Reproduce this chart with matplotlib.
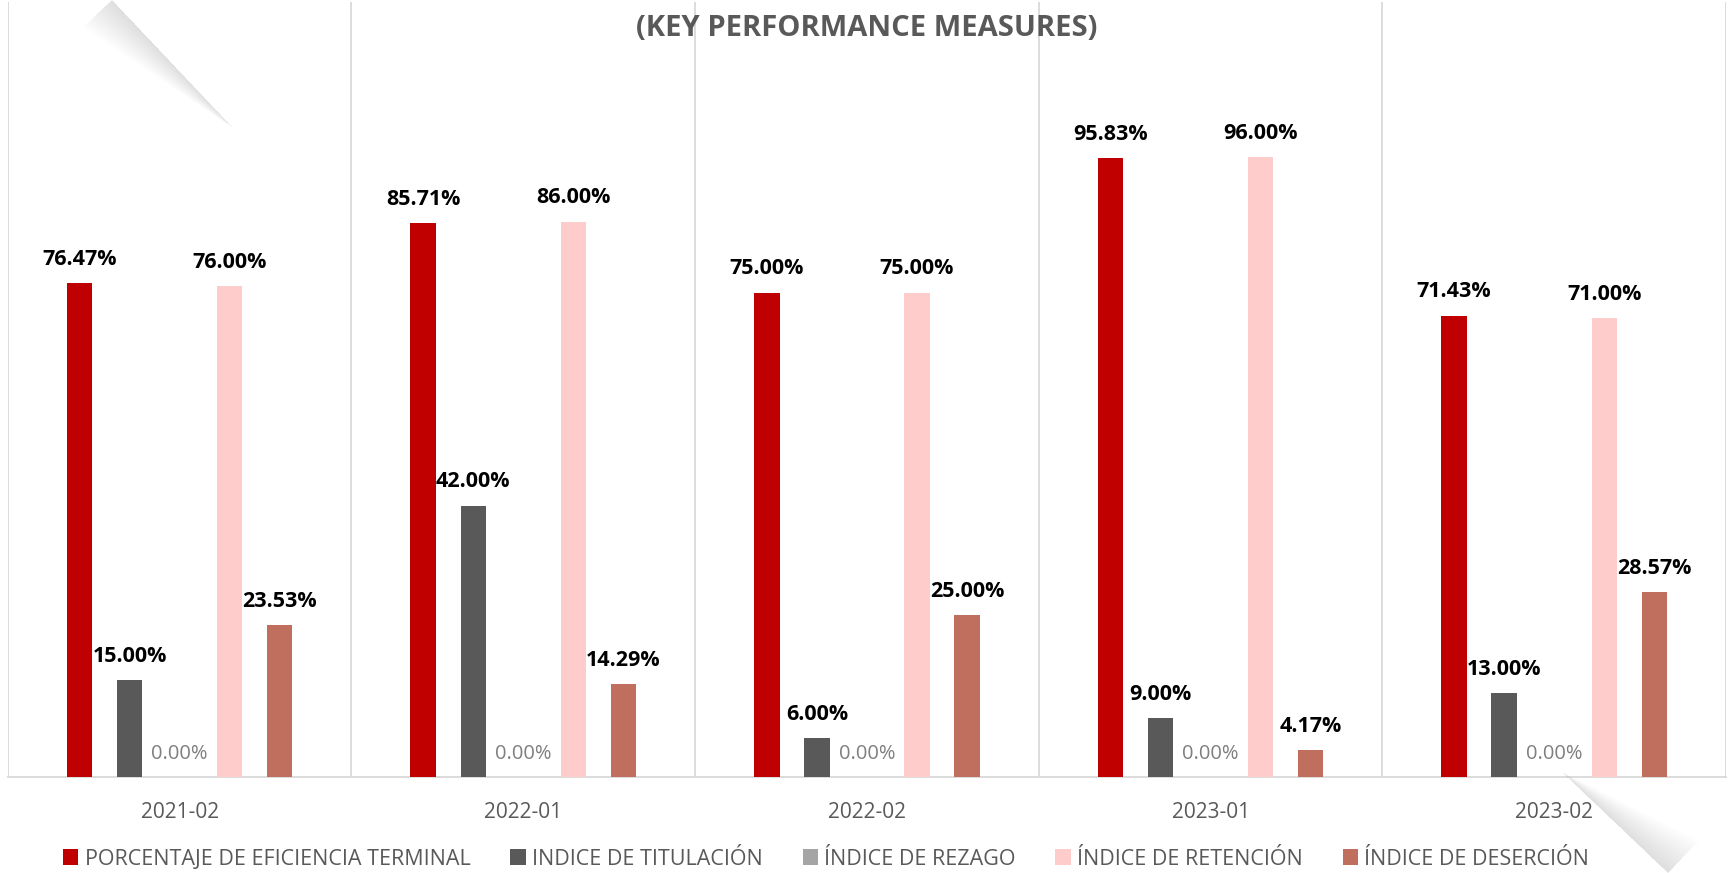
#KPI grouped bar chart by semester
import numpy as np; import matplotlib.pyplot as plt
from matplotlib.patches import Polygon

#Data
periodos=['2021-02','2022-01','2022-02','2023-01','2023-02']
series=['PORCENTAJE DE EFICIENCIA TERMINAL','INDICE DE TITULACIÓN','ÍNDICE DE REZAGO','ÍNDICE DE RETENCIÓN','ÍNDICE DE DESERCIÓN']
eficiencia=[76.47,85.71,75.00,95.83,71.43]
titulacion=[15.00,42.00,6.00,9.00,13.00]
rezago=[0.00,0.00,0.00,0.00,0.00]
retencion=[76.00,86.00,75.00,96.00,71.00]
desercion=[23.53,14.29,25.00,4.17,28.57]
colores=['#C00000','#595959','#A5A5A5','#FFCCCC','#C06E5E']

W,H=1732,873
fuente=['Open Sans','DejaVu Sans']
plt.rcParams['font.family']=fuente

fig=plt.figure(figsize=(W/100,H/100),dpi=100)
ax=fig.add_axes([0.0045,0.1105,0.9921,0.887])

x=np.arange(len(periodos))
paso=0.1457     #slot per bar
ancho=0.074     #bar width
datos=[eficiencia,titulacion,rezago,retencion,desercion]
for j,(vals,col,nom) in enumerate(zip(datos,colores,series)):
    pos=x+(j-2)*paso
    ax.bar(pos,vals,width=ancho,color=col,label=nom,zorder=3)
    for xp,v in zip(pos,vals):
        if v==0:
            ax.annotate('%.2f%%'%v,(xp,v),xytext=(0,16),textcoords='offset points',
                        ha='center',va='center',fontsize=14.5,color='#7F7F7F')
        else:
            ax.annotate('%.2f%%'%v,(xp,v),xytext=(0,17),textcoords='offset points',
                        ha='center',va='center',fontsize=15.5,fontweight='bold',color='black')

#separators between categories
for b in np.arange(-0.5,5.0,1.0):
    ax.axvline(b,color='#D9D9D9',lw=1.3,zorder=1)

ax.set_xlim(-0.5,4.5)
ax.set_ylim(0,120)
ax.set_yticks([])
ax.set_xticks(x)
ax.set_xticklabels(periodos,fontsize=15,color='#595959')
ax.tick_params(axis='x',length=0,pad=18)
for s in ['top','left','right']:
    ax.spines[s].set_visible(False)
ax.spines['bottom'].set_color('#D9D9D9')
ax.spines['bottom'].set_linewidth(1.3)

ax.text(0.5,0.966,'(KEY PERFORMANCE MEASURES)',transform=ax.transAxes,ha='center',va='center',
        fontsize=21,fontweight='bold',color='#595959')

#soft shadow strokes in two corners (pixel coords -> figure fraction)
def sombra(p0,p1,w0,w1,lado,n=16,a=0.006):
    p0=np.array(p0,float); p1=np.array(p1,float)
    d=(p1-p0)/np.hypot(*(p1-p0))
    nrm=np.array([-d[1],d[0]])*lado
    for k in range(1,n+1):
        f=k/n
        pts=[p0,p1,p1+nrm*w1*f,p0+nrm*w0*f]
        pts=[[q[0]/W,1-q[1]/H] for q in pts]
        fig.patches.append(Polygon(pts,closed=True,transform=fig.transFigure,
                                   facecolor='#606060',alpha=a,edgecolor='none',zorder=0))
sombra((112,0),(233,128),40,0,1)
sombra((1562,772),(1668,873),0,45,-1)

fig.legend(loc='center',bbox_to_anchor=(0.477,0.016),ncol=5,frameon=False,fontsize=15.5,
           handlelength=0.7,handleheight=0.7,handletextpad=0.3,columnspacing=1.85,labelcolor='#595959')

plt.savefig('out.png',dpi=100)
